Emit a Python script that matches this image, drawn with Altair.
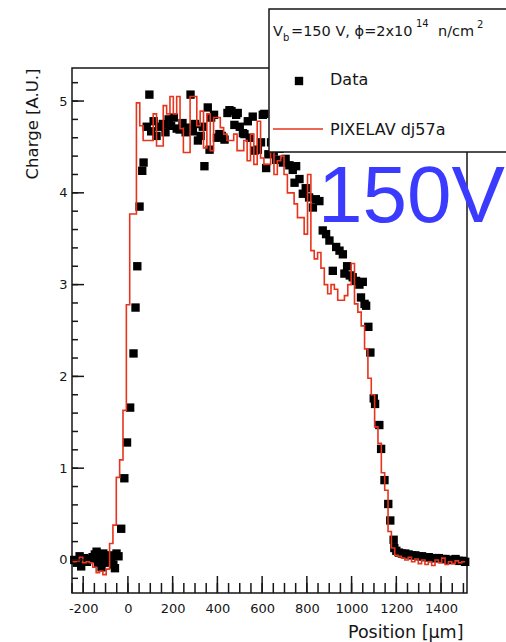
import altair as alt
import pandas as pd

# ---------------- data ----------------
point_x = [-240, -228, -216, -209, -196, -183, -170, -158, -148, -140, -133, -125, -118, -110,
           -103, -95, -85, -75, -65, -58, -51, -42, -30, -16, -4, 10, 25, 34, 42, 52, 64, 70, 84,
           96, 104, 115, 128, 140, 156, 168, 182, 193, 205, 218, 231, 244, 258, 270, 280, 290,
           300, 313, 325, 335, 342, 357, 365, 372, 385, 398, 409, 420, 432, 445, 454, 463, 476,
           484, 491, 500, 514, 521, 536, 545, 558, 566, 581, 595, 603, 610, 618, 628, 640, 652,
           663, 678, 693, 705, 722, 737, 745, 752, 767, 782, 795, 810, 827, 840, 856, 871, 886,
           901, 916, 931, 946, 961, 968, 980, 992, 1005, 1020, 1035, 1042, 1050, 1058, 1065,
           1075, 1084, 1099, 1105, 1124, 1132, 1147, 1164, 1173, 1188, 1191, 1200, 1212, 1225,
           1240, 1255, 1270, 1285, 1300, 1315, 1330, 1345, 1360, 1375, 1390, 1405, 1420, 1435,
           1450, 1465, 1480, 1495, 1508]
point_y = [0.00, -0.03, 0.04, -0.07, 0.02, -0.02, 0.01, 0.03, 0.06, 0.09, -0.03, 0.05, -0.08, 0.07,
           -0.03, 0.04, 0.05, 0.02, -0.05, -0.09, 0.07, 0.04, 0.34, 0.89, 1.28, 1.66, 2.25, 2.75,
           3.20, 3.85, 4.24, 4.33, 4.72, 5.07, 4.67, 4.78, 4.62, 4.72, 4.75, 4.66, 4.80, 4.73,
           4.82, 4.70, 4.69, 4.76, 4.66, 4.71, 5.07, 4.67, 4.75, 4.57, 4.62, 4.72, 4.29, 4.93,
           4.47, 4.82, 4.85, 4.60, 4.64, 4.62, 4.58, 4.87, 4.90, 4.89, 4.74, 4.85, 4.87, 4.72,
           4.65, 4.64, 4.78, 4.60, 4.83, 4.46, 4.47, 4.55, 4.85, 4.86, 4.27, 4.42, 4.55, 4.45,
           4.36, 4.48, 4.33, 4.37, 4.30, 4.25, 4.11, 4.29, 4.15, 3.99, 4.05, 3.95, 3.84, 3.93,
           3.91, 3.59, 3.55, 3.48, 3.15, 3.41, 3.37, 3.33, 3.12, 3.20, 3.10, 3.08, 3.04, 3.00,
           2.86, 3.03, 2.79, 2.77, 2.54, 2.26, 1.76, 1.70, 1.47, 1.21, 0.87, 0.61, 0.43, 0.22,
           0.13, 0.10, 0.08, 0.07, 0.07, 0.06, 0.05, 0.05, 0.04, 0.04, 0.03, 0.03, 0.02, 0.02,
           0.02, 0.01, 0.01, 0.00, 0.00, 0.01, -0.01, -0.01, -0.02]

# PIXELAV simulation histogram (bin contents, 15 um bins)
red_first_edge = -247
red_bin_width = 15
red_values = [-0.02, -0.01, 0.03, -0.03, -0.02, -0.03, -0.08, -0.14, -0.12, -0.16, -0.10, 0.18,
              0.38, 0.90, 1.09, 1.63, 2.78, 3.77, 3.77, 4.98, 4.73, 4.57, 4.57, 4.57, 4.86, 4.51,
              4.51, 4.95, 4.86, 5.05, 4.86, 5.05, 4.70, 4.44, 4.44, 5.05, 5.05, 4.73, 4.89, 4.49,
              4.86, 4.46, 4.82, 4.82, 4.71, 4.64, 4.57, 4.57, 4.64, 4.46, 4.46, 4.57, 4.35, 4.64,
              4.31, 4.78, 4.38, 4.31, 4.31, 4.50, 4.20, 4.35, 4.40, 4.20, 4.00, 4.00, 3.88, 3.73,
              3.73, 3.55, 4.20, 3.37, 3.28, 3.35, 3.18, 3.00, 2.90, 3.00, 2.95, 2.83, 2.83, 2.88,
              3.00, 3.23, 2.79, 2.70, 2.55, 2.30, 1.98, 1.80, 1.45, 1.27, 0.95, 0.76, 0.31, 0.13,
              0.05, 0.04, 0.02, 0.00, 0.03, -0.02, 0.01, -0.04, 0.00, -0.05, -0.02, -0.06, 0.00,
              -0.03, 0.02, -0.05, -0.02, -0.04, -0.01, -0.03, -0.02]

x_label_values = [-200, 0, 200, 400, 600, 800, 1000, 1200, 1400]
x_minor_values = [v for v in range(-250, 1501, 50)]
y_label_values = [0, 1, 2, 3, 4, 5]
y_minor_values = [round(v * 0.2, 1) for v in range(-1, 27)]

legend_title_parts = ["V", "b", "=150 V, \u03d5=2x10", "14", "n/cm", "2"]
legend_entries = ["Data", "PIXELAV dj57a"]
annotation_text = "150V"

X_DOMAIN = [-250, 1516]
Y_DOMAIN = [-0.36, 5.36]

# ---------------- chart ----------------
W, H = 395, 525
FONT = "DejaVu Sans"
INK = "#161616"
RED = "#e8341c"
BLUE = "#3b3bff"

points_df = pd.DataFrame({"x": point_x, "y": point_y})
edges = [red_first_edge + red_bin_width * i for i in range(len(red_values) + 1)]
red_df = pd.DataFrame({"x": edges, "y": red_values + [red_values[-1]]})

xs = alt.Scale(domain=X_DOMAIN, nice=False, zero=False)
ys = alt.Scale(domain=Y_DOMAIN, nice=False, zero=False)

label_x_axis = alt.Axis(orient="bottom", values=x_label_values, ticks=False, domain=False, grid=False,
                        labelFont=FONT, labelFontSize=13, labelColor=INK, labelPadding=9,
                        labelOverlap=False, labelFlush=False, labelExpr="'' + datum.value",
                        title="Position [\u00b5m]", titleFont=FONT, titleFontSize=17.5,
                        titleFontWeight="normal", titleColor=INK, titleAlign="right",
                        titleBaseline="alphabetic", titleX=391, titleY=44)
label_y_axis = alt.Axis(orient="left", values=y_label_values, ticks=False, domain=False, grid=False,
                        labelFont=FONT, labelFontSize=13, labelColor=INK, labelPadding=5,
                        labelOverlap=False, labelFlush=False, labelExpr="'' + datum.value",
                        title="Charge [A.U.]", titleFont=FONT, titleFontSize=16.5,
                        titleFontWeight="normal", titleColor=INK, titleAngle=-90,
                        titleAlign="right", titleBaseline="alphabetic", titleX=-35, titleY=0)

pts = alt.Chart(points_df).mark_point(shape="square", filled=True, size=70, color="black",
                                      opacity=1).encode(
    x=alt.X("x:Q", scale=xs, axis=label_x_axis),
    y=alt.Y("y:Q", scale=ys, axis=label_y_axis),
)

red = alt.Chart(red_df).mark_line(interpolate="step-after", color=RED, strokeWidth=1.6).encode(
    x=alt.X("x:Q", scale=xs, axis=None),
    y=alt.Y("y:Q", scale=ys, axis=None),
)


def x_ticks(values, length):
    return alt.Chart(pd.DataFrame({"v": values})).mark_rule(color=INK, strokeWidth=1.5).encode(
        x=alt.X("v:Q", scale=xs, axis=None), y=alt.value(H), y2=alt.value(H - length))


def y_ticks(values, length):
    return alt.Chart(pd.DataFrame({"v": values})).mark_rule(color=INK, strokeWidth=1.5).encode(
        y=alt.Y("v:Q", scale=ys, axis=None), x=alt.value(0), x2=alt.value(length))


ticks = [x_ticks(x_minor_values, 10), x_ticks(x_label_values, 17),
         y_ticks(y_minor_values, 6), y_ticks(y_label_values, 12)]

one = alt.Data(values=[{"a": 1}])

box = alt.Chart(one).mark_rect(fill="white", stroke=INK, strokeWidth=1.5).encode(
    x=alt.value(197), x2=alt.value(440), y=alt.value(-59), y2=alt.value(84))


def txt(s, x, y, size, color=INK, font=FONT):
    return alt.Chart(one).mark_text(text=s, align="left", baseline="alphabetic", font=font,
                                    fontSize=size, color=color).encode(
        x=alt.value(x), y=alt.value(y))


title_layers = [
    txt(legend_title_parts[0], 201, -32, 14.5),
    txt(legend_title_parts[1], 211, -27, 10),
    txt(legend_title_parts[2], 219, -32, 14.5),
    txt(legend_title_parts[3], 344, -41, 10),
    txt(legend_title_parts[4], 366, -32, 14.5),
    txt(legend_title_parts[5], 405, -40, 10),
]

leg_marker = alt.Chart(one).mark_point(shape="square", filled=True, size=70, color="black",
                                       opacity=1).encode(x=alt.value(227), y=alt.value(13))
leg_line = alt.Chart(one).mark_rule(color=RED, strokeWidth=1.6).encode(
    x=alt.value(201), x2=alt.value(251), y=alt.value(61))
leg_t1 = txt(legend_entries[0], 258, 17, 16)
leg_t2 = txt(legend_entries[1], 258, 67, 16)

annot = txt(annotation_text, 246, 154, 80, color=BLUE, font="Liberation Sans")

chart = alt.layer(
    pts, red, *ticks, box, *title_layers, leg_marker, leg_line, leg_t1, leg_t2, annot
).resolve_axis(x="independent", y="independent").properties(
    width=W, height=H,
    autosize=alt.AutoSizeParams(type="none"),
    padding={"left": 72, "top": 68, "right": 39, "bottom": 49},
    background="white",
).configure_view(stroke=INK, strokeWidth=1.5)

chart.save("out.html", embed_options={"renderer": "svg", "actions": False})
